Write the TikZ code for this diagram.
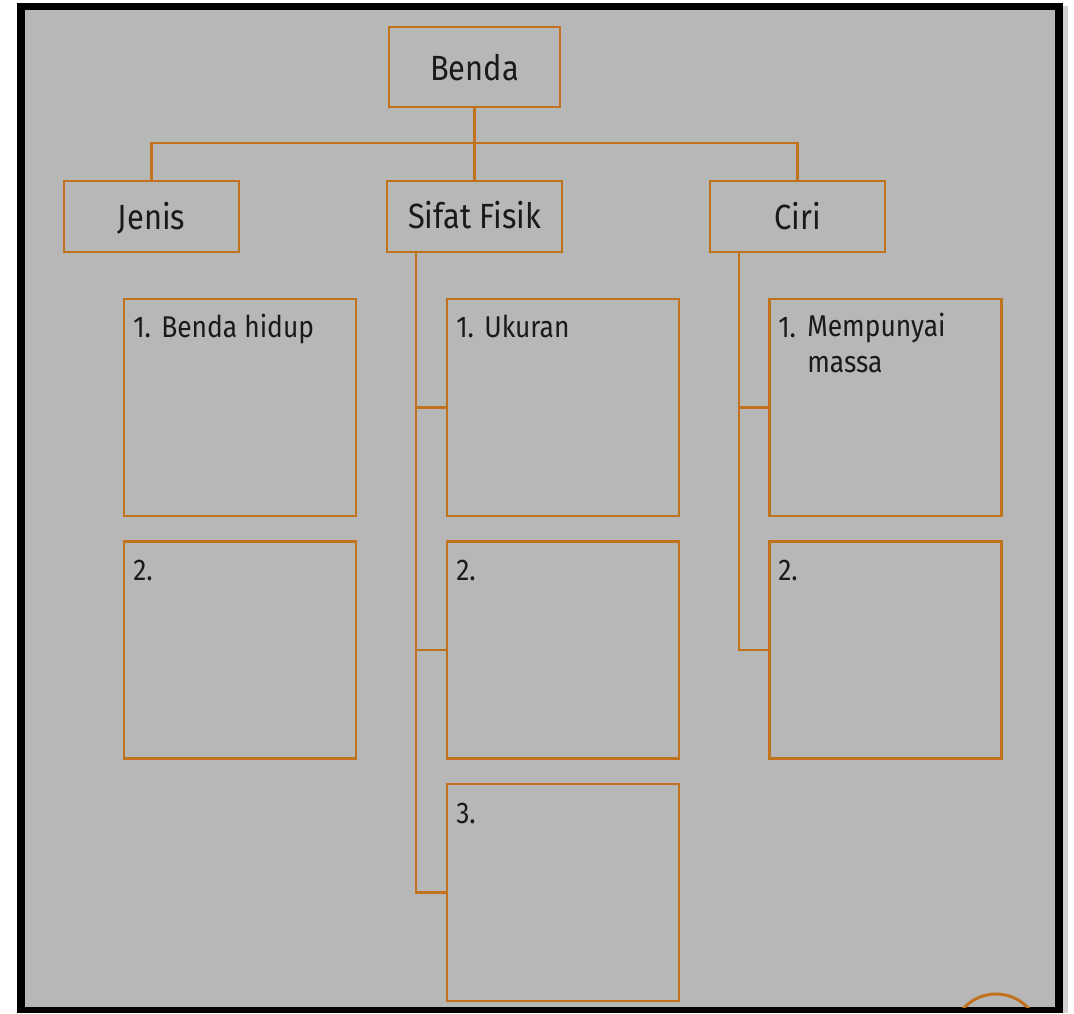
\documentclass[tikz,border=0pt]{standalone}
\usepackage{fontspec}
\setmainfont[FakeStretch=0.88]{Fira Sans}
\definecolor{frameorange}{HTML}{C1721C}
\definecolor{bggray}{HTML}{B7B7B7}
\definecolor{inkblack}{HTML}{1A1A1A}
\begin{document}
\begin{tikzpicture}[x=1pt,y=-1pt,
  line width=2.6pt,
  headbox/.style={draw=frameorange, line width=2.6pt, minimum width=175pt, minimum height=71pt, inner sep=0pt},
  itembox/.style={draw=frameorange, line width=2.6pt, minimum width=232pt, minimum height=217pt, inner sep=0pt},
  conn/.style={draw=frameorange, line width=2.6pt},
  headtext/.style={anchor=base, inner sep=0pt, text=inkblack, font=\fontsize{35}{40}\selectfont},
  itemtext/.style={anchor=base west, inner sep=0pt, text=inkblack, align=left, font=\fontsize{30}{36}\selectfont}
]
\useasboundingbox (0,0) rectangle (1074,1013);
% outer frame
\fill[white] (0,0) rectangle (1074,1013);
\fill[gray!35] (1063,6) rectangle (1068,1013);
\fill[black] (17,3) rectangle (1063,1013);
\fill[bggray] (25,10) rectangle (1055,1007);

% header boxes
\node[headbox, minimum width=171pt, minimum height=80pt] (benda) at (474.5,67) {};
\node[headbox] (jenis) at (151.5,216.5) {};
\node[headbox] (sifat) at (474.5,216.5) {};
\node[headbox] (ciri) at (797.5,216.5) {};

\node[headtext] (tbenda) at (474.5,80) {Benda};
\node[headtext] (tjenis) at (151.5,229) {Jenis};
\node[headtext] (tsifat) at (474.5,228) {Sifat Fisik};
\node[headtext] (tciri) at (797.5,229) {Ciri};

% item boxes
\node[itembox] (j1) at (240,407.5) {};
\node[itembox] (j2) at (240,650) {};
\node[itembox] (s1) at (563,407.5) {};
\node[itembox] (s2) at (563,650) {};
\node[itembox] (s3) at (563,892.5) {};
\node[itembox] (c1) at (885.5,407.5) {};
\node[itembox] (c2) at (885.5,650) {};

% item texts
\node[itemtext] (nj1) at (132,337) {1.};
\node[itemtext] (tj1) at (160,337) {Benda hidup};
\node[itemtext] (nj2) at (132,580) {2.};
\node[itemtext] (ns1) at (455,337) {1.};
\node[itemtext] (ts1) at (483,337) {Ukuran};
\node[itemtext] (ns2) at (455,580) {2.};
\node[itemtext] (ns3) at (455,823) {3.};
\node[itemtext] (nc1) at (777,337) {1.};
\node[itemtext] (tc1) at (806,372) {Mempunyai\\massa};
\node[itemtext] (nc2) at (777,580) {2.};

% connectors
\coordinate (hub) at (474.5,143);
\coordinate (sroot) at (416,252);
\coordinate (croot) at (739,252);
\draw[conn] (benda.south) -- (hub);
\draw[conn] (jenis.north) |- (hub);
\draw[conn] (ciri.north) |- (hub);
\draw[conn] (sifat.north) -- (hub);
\draw[conn] (sroot) |- (s3.west);
\draw[conn] (s1.west) -- (s1.west -| sroot);
\draw[conn] (s2.west) -- (s2.west -| sroot);
\draw[conn] (croot) |- (c2.west);
\draw[conn] (c1.west) -- (c1.west -| croot);

% partial circle at bottom right
\begin{scope}
\clip (25,10) rectangle (1055,1007);
\draw[frameorange, line width=3pt] (996,1038) circle (44pt);
\end{scope}
\end{tikzpicture}
\end{document}
